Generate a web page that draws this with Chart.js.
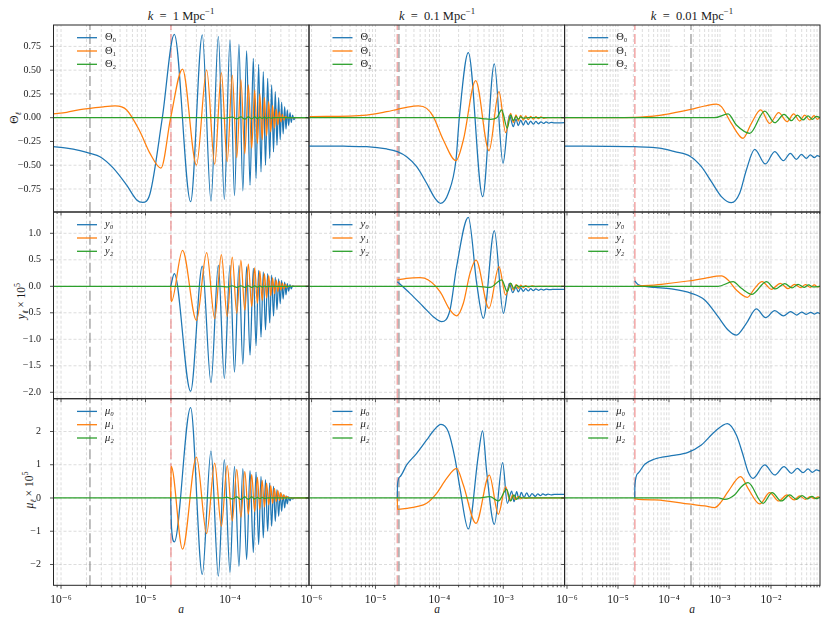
<!DOCTYPE html>
<html><head><meta charset="utf-8">
<script src="https://cdn.jsdelivr.net/npm/chart.js@4.4.1/dist/chart.umd.min.js"></script>
<style>
body{margin:0;background:#fff;width:830px;height:623px;overflow:hidden;position:relative;font-family:'Liberation Serif','DejaVu Serif',serif;color:#1a1a1a;}
canvas{position:absolute;left:0;top:0;}
.t{position:absolute;font-size:12.5px;white-space:nowrap;transform:translate(-50%,-50%);}
.yl{position:absolute;font-size:11.5px;white-space:nowrap;transform:translate(-50%,-50%) rotate(-90deg);}
.xl{position:absolute;font-size:11.5px;white-space:nowrap;transform:translate(-50%,-50%);}
sup,sub{font-size:70%;line-height:0;}
</style></head><body>
<div class="t" style="left:181px;top:15.5px"><i>k</i>&ensp;=&ensp;1 Mpc<sup>−1</sup></div>
<div class="t" style="left:437px;top:15.5px"><i>k</i>&ensp;=&ensp;0.1 Mpc<sup>−1</sup></div>
<div class="t" style="left:692px;top:15.5px"><i>k</i>&ensp;=&ensp;0.01 Mpc<sup>−1</sup></div>
<div class="yl" style="left:14px;top:118px">Θ<sub><i>ℓ</i></sub></div>
<div class="yl" style="left:21px;top:301px"><i>y</i><sub><i>ℓ</i></sub> × 10<sup>5</sup></div>
<div class="yl" style="left:29px;top:490px"><i>μ</i><sub><i>ℓ</i></sub> × 10<sup>5</sup></div>
<div class="xl" style="left:181px;top:609px"><i>a</i></div>
<div class="xl" style="left:437px;top:609px"><i>a</i></div>
<div class="xl" style="left:692px;top:609px"><i>a</i></div>
<script>
// ---------- data: [log10(a), value] ----------
const kLabels = ['1', '0.1', '0.01'];
const xLogMin = [-6.089, -6.04, -6.045];
const xLogMax = [-3.065, -2.042, -1.039];
const yMin = [-0.992, -2.121, -2.626];
const yMax = [0.975, 1.402, 2.986];
const yStep = [0.25, 0.5, 1];
const yDecimals = [2, 1, 0];
const redLineA = [2.0e-5, 2.2e-5, 2.14e-5];
const greyLineA = [2.2e-6, 2.33e-5, 2.7e-4];
const symbols = ['Θ', 'y', 'μ'];

const theta0_k1 = [[-6.089,-0.305],[-5.933,-0.32],[-5.775,-0.347],[-5.657,-0.375],[-5.539,-0.41],[-5.381,-0.53],[-5.223,-0.71],[-5.104,-0.865],[-5.033,-0.89],[-4.947,-0.80],[-4.801,0.0],[-4.659,0.877],
[-4.466,-0.883],[-4.328,0.870],[-4.225,-0.876],[-4.138,0.852],[-4.067,-0.858],[-4.000,0.817],[-3.947,-0.82],[-3.894,0.772],[-3.848,-0.77],[-3.803,0.702],[-3.763,-0.71],[-3.724,0.624],[-3.692,-0.64],[-3.661,0.561],[-3.633,-0.57],[-3.606,0.484],[-3.580,-0.50],[-3.554,0.414],[-3.530,-0.43],[-3.507,0.344],[-3.485,-0.36],[-3.464,0.274],[-3.444,-0.29],[-3.424,0.211],[-3.406,-0.23],[-3.389,0.162],[-3.371,-0.17],[-3.353,0.116],[-3.337,-0.12],[-3.322,0.081],[-3.306,-0.08],[-3.290,0.053],[-3.275,-0.05],[-3.259,0.028],[-3.244,-0.02],[-3.225,0.0],[-3.065,0.0]];
const theta1_k1 = [[-6.089,0.039],[-5.933,0.057],[-5.775,0.085],[-5.657,0.099],[-5.50,0.115],[-5.361,0.123],[-5.223,0.081],[-5.065,-0.147],[-4.947,-0.375],[-4.817,-0.53],[-4.702,0.0],[-4.562,0.512],[-4.397,-0.498],[-4.276,0.502],[-4.181,-0.49],[-4.102,0.474],[-4.033,-0.462],[-3.973,0.449],[-3.920,-0.42],[-3.871,0.40],[-3.825,-0.38],[-3.783,0.345],[-3.743,-0.32],[-3.708,0.29],[-3.676,-0.27],[-3.647,0.25],[-3.619,-0.23],[-3.593,0.21],[-3.567,-0.19],[-3.542,0.17],[-3.518,-0.15],[-3.496,0.13],[-3.474,-0.11],[-3.454,0.09],[-3.434,-0.075],[-3.415,0.06],[-3.397,-0.045],[-3.380,0.035],[-3.362,-0.025],[-3.345,0.015],[-3.32,0.0],[-3.065,0.0]];
const theta2_k1 = [[-6.089,0],[-4.15,0],[-4.067,-0.006],[-3.973,0.006],[-3.920,-0.012],[-3.871,0.008],[-3.825,-0.014],[-3.783,0.008],[-3.743,-0.012],[-3.708,0.008],[-3.676,-0.01],[-3.647,0.006],[-3.619,-0.008],[-3.593,0.005],[-3.567,-0.006],[-3.542,0.004],[-3.518,-0.004],[-3.48,0],[-3.065,0]];

const theta0_k01 = [[-6.04,-0.298],[-5.5,-0.30],[-5.138,-0.305],[-4.825,-0.329],[-4.658,-0.357],[-4.512,-0.41],[-4.355,-0.515],[-4.199,-0.69],[-4.068,-0.848],[-3.980,-0.90],[-3.860,-0.795],[-3.740,-0.445],[-3.688,0.0],[-3.547,0.684],[-3.323,-0.83],[-3.14,0.565],[-3.004,-0.48],[-2.905,0.028],[-2.843,-0.094],[-2.801,-0.014],[-2.765,-0.084],[-2.728,-0.026],[-2.686,-0.077],[-2.650,-0.032],[-2.608,-0.072],[-2.572,-0.036],[-2.530,-0.068],[-2.49,-0.040],[-2.45,-0.064],[-2.41,-0.043],[-2.37,-0.061],[-2.33,-0.045],[-2.29,-0.058],[-2.25,-0.048],[-2.2,-0.055],[-2.04,-0.052]];
const theta1_k01 = [[-6.04,0.011],[-5.138,0.028],[-4.825,0.063],[-4.658,0.088],[-4.512,0.109],[-4.329,0.123],[-4.199,0.098],[-4.095,0.011],[-3.938,-0.235],[-3.740,-0.452],[-3.625,-0.235],[-3.432,0.39],[-3.223,-0.347],[-3.067,0.274],[-2.963,-0.157],[-2.885,0.046],[-2.843,-0.05],[-2.80,0.03],[-2.765,-0.035],[-2.728,0.025],[-2.686,-0.025],[-2.65,0.02],[-2.608,-0.02],[-2.572,0.015],[-2.53,-0.015],[-2.49,0.012],[-2.45,-0.01],[-2.41,0.008],[-2.37,-0.006],[-2.3,0.0],[-2.04,0.0]];
const theta2_k01 = [[-6.04,0],[-3.45,0],[-3.30,-0.012],[-3.20,-0.017],[-3.10,0.0],[-3.025,0.081],[-2.937,-0.11],[-2.885,0.03],[-2.843,-0.03],[-2.80,0.015],[-2.765,-0.015],[-2.728,0.008],[-2.69,-0.005],[-2.6,0],[-2.04,0]];

const theta0_k001 = [[-6.045,-0.298],[-4.672,-0.305],[-4.15,-0.322],[-3.888,-0.357],[-3.574,-0.41],[-3.365,-0.515],[-3.169,-0.673],[-2.973,-0.83],[-2.777,-0.894],[-2.614,-0.795],[-2.483,-0.55],[-2.319,-0.333],[-2.11,-0.487],[-1.927,-0.357],[-1.757,-0.452],[-1.62,-0.375],[-1.502,-0.438],[-1.404,-0.385],[-1.306,-0.427],[-1.228,-0.392],[-1.15,-0.42],[-1.091,-0.399],[-1.039,-0.41]];
const theta1_k001 = [[-6.045,0.0],[-4.672,0.004],[-4.15,0.028],[-3.888,0.053],[-3.574,0.088],[-3.30,0.123],[-3.071,0.144],[-2.973,0.116],[-2.777,-0.06],[-2.548,-0.217],[-2.385,-0.06],[-2.202,0.081],[-2.025,-0.06],[-1.849,0.053],[-1.685,-0.042],[-1.555,0.039],[-1.437,-0.035],[-1.339,0.028],[-1.241,-0.024],[-1.156,0.021],[-1.091,-0.017],[-1.039,0.004]];
const theta2_k001 = [[-6.045,0],[-3.104,0],[-2.842,0.039],[-2.679,-0.077],[-2.417,-0.164],[-2.123,0.07],[-1.927,-0.053],[-1.744,0.035],[-1.6,-0.031],[-1.483,0.028],[-1.372,-0.024],[-1.274,0.018],[-1.189,-0.017],[-1.11,0.014],[-1.039,0.0]];

const y0_k1 = [[-4.702,0.0],[-4.659,0.24],[-4.466,-1.98],[-4.328,0.38],[-4.225,-1.82],[-4.138,0.40],[-4.067,-1.74],[-4.000,0.40],[-3.947,-1.62],[-3.894,0.39],[-3.848,-1.47],[-3.803,0.37],[-3.763,-1.30],[-3.724,0.34],[-3.692,-1.12],[-3.661,0.30],[-3.633,-0.96],[-3.606,0.27],[-3.580,-0.82],[-3.554,0.24],[-3.530,-0.69],[-3.507,0.21],[-3.485,-0.56],[-3.464,0.17],[-3.444,-0.44],[-3.424,0.14],[-3.406,-0.33],[-3.389,0.11],[-3.371,-0.24],[-3.353,0.08],[-3.337,-0.16],[-3.322,0.05],[-3.306,-0.09],[-3.290,0.03],[-3.275,-0.05],[-3.259,0.01],[-3.24,0.0],[-3.065,0.0]];
const y1_k1 = [[-4.702,0.0],[-4.694,-0.29],[-4.562,0.68],[-4.397,-0.645],[-4.276,0.635],[-4.181,-0.61],[-4.102,0.60],[-4.033,-0.57],[-3.973,0.55],[-3.920,-0.51],[-3.871,0.49],[-3.825,-0.45],[-3.783,0.42],[-3.743,-0.38],[-3.708,0.35],[-3.676,-0.32],[-3.647,0.29],[-3.619,-0.27],[-3.593,0.24],[-3.567,-0.22],[-3.542,0.20],[-3.518,-0.18],[-3.496,0.16],[-3.474,-0.14],[-3.454,0.12],[-3.434,-0.10],[-3.415,0.09],[-3.397,-0.07],[-3.380,0.06],[-3.362,-0.05],[-3.345,0.04],[-3.33,-0.02],[-3.31,0.0],[-3.065,0.0]];
const y2_k1 = [[-6.089,0],[-4.1,0],[-4.033,-0.01],[-3.973,0.01],[-3.920,-0.02],[-3.871,0.01],[-3.825,-0.02],[-3.783,0.01],[-3.743,-0.02],[-3.708,0.01],[-3.676,-0.015],[-3.647,0.008],[-3.619,-0.01],[-3.593,0.005],[-3.567,-0.006],[-3.53,0],[-3.065,0]];

const y0_k01 = [[-4.658,0.087],[-4.46,-0.133],[-4.251,-0.385],[-4.095,-0.573],[-3.964,-0.667],[-3.834,-0.447],[-3.73,0.37],[-3.547,1.301],[-3.416,0.055],[-3.312,-0.605],[-3.14,1.05],[-2.999,-0.51],[-2.905,0.057],[-2.853,-0.12],[-2.801,-0.02],[-2.765,-0.107],[-2.728,-0.032],[-2.686,-0.095],[-2.65,-0.045],[-2.608,-0.088],[-2.572,-0.045],[-2.53,-0.082],[-2.49,-0.05],[-2.45,-0.075],[-2.41,-0.053],[-2.37,-0.07],[-2.33,-0.055],[-2.28,-0.065],[-2.23,-0.057],[-2.04,-0.06]];
const y1_k01 = [[-4.658,0.12],[-4.512,0.151],[-4.303,0.164],[-4.173,0.12],[-3.99,-0.101],[-3.834,-0.447],[-3.73,-0.56],[-3.625,-0.321],[-3.521,0.245],[-3.427,0.496],[-3.224,-0.415],[-3.067,0.37],[-2.963,-0.164],[-2.885,0.057],[-2.843,-0.07],[-2.80,0.03],[-2.765,-0.04],[-2.728,0.02],[-2.686,-0.025],[-2.65,0.012],[-2.608,-0.015],[-2.55,0.008],[-2.5,-0.005],[-2.4,0],[-2.04,0]];
const y2_k01 = [[-6.04,0],[-3.4,0],[-3.208,-0.02],[-3.025,0.12],[-2.937,-0.10],[-2.885,0.06],[-2.834,-0.04],[-2.79,0.02],[-2.75,-0.01],[-2.7,0],[-2.04,0]];

const y0_k001 = [[-4.672,0.10],[-4.6,0.03],[-4.28,-0.019],[-3.953,-0.05],[-3.561,-0.133],[-3.3,-0.259],[-3.038,-0.573],[-2.842,-0.824],[-2.679,-0.919],[-2.483,-0.70],[-2.287,-0.428],[-2.104,-0.592],[-1.927,-0.46],[-1.757,-0.56],[-1.613,-0.479],[-1.496,-0.542],[-1.398,-0.485],[-1.306,-0.529],[-1.221,-0.491],[-1.143,-0.523],[-1.084,-0.498],[-1.039,-0.517]];
const y1_k001 = [[-4.672,0],[-4.15,0.038],[-3.627,0.1],[-3.3,0.151],[-2.973,0.195],[-2.842,0.12],[-2.679,-0.07],[-2.463,-0.208],[-2.319,-0.038],[-2.175,0.088],[-1.993,-0.057],[-1.816,0.057],[-1.666,-0.044],[-1.535,0.038],[-1.417,-0.025],[-1.326,0.031],[-1.228,-0.019],[-1.15,0.025],[-1.084,-0.013],[-1.039,0.006]];
const y2_k001 = [[-6.045,0],[-3.038,0],[-2.744,0.088],[-2.581,-0.038],[-2.372,-0.151],[-2.091,0.088],[-1.914,-0.05],[-1.731,0.05],[-1.587,-0.031],[-1.47,0.038],[-1.352,-0.019],[-1.261,0.025],[-1.176,-0.013],[-1.039,0]];

const mu0_k1 = [[-4.702,0.0],[-4.692,-0.9],[-4.659,-1.32],[-4.466,2.72],[-4.328,-2.30],[-4.225,1.42],[-4.138,-2.35],[-4.067,1.15],[-4.000,-2.24],[-3.947,0.95],[-3.894,-2.06],[-3.848,0.88],[-3.803,-1.85],[-3.763,0.82],[-3.724,-1.64],[-3.692,0.78],[-3.661,-1.40],[-3.633,0.65],[-3.606,-1.20],[-3.580,0.55],[-3.554,-1.00],[-3.530,0.45],[-3.507,-0.85],[-3.485,0.35],[-3.464,-0.70],[-3.444,0.25],[-3.424,-0.55],[-3.406,0.17],[-3.389,-0.40],[-3.371,0.10],[-3.353,-0.30],[-3.337,0.06],[-3.322,-0.18],[-3.306,0.03],[-3.290,-0.09],[-3.275,0.01],[-3.259,-0.03],[-3.24,0.0],[-3.065,0.0]];
const mu1_k1 = [[-4.702,0.0],[-4.696,0.95],[-4.562,-1.54],[-4.397,1.23],[-4.276,-1.07],[-4.181,1.05],[-4.102,-0.85],[-4.033,0.97],[-3.973,-0.69],[-3.920,0.86],[-3.871,-0.58],[-3.825,0.79],[-3.783,-0.49],[-3.743,0.70],[-3.708,-0.41],[-3.676,0.62],[-3.647,-0.34],[-3.619,0.53],[-3.593,-0.27],[-3.567,0.45],[-3.542,-0.21],[-3.518,0.37],[-3.496,-0.16],[-3.474,0.29],[-3.454,-0.11],[-3.434,0.22],[-3.415,-0.07],[-3.397,0.15],[-3.380,-0.04],[-3.362,0.09],[-3.345,-0.02],[-3.33,0.05],[-3.30,0.0],[-3.065,0.0]];
const mu2_k1 = [[-6.089,0],[-4.1,0],[-4.033,0.02],[-3.973,-0.03],[-3.920,0.03],[-3.871,-0.04],[-3.825,0.03],[-3.783,-0.04],[-3.743,0.03],[-3.708,-0.03],[-3.676,0.02],[-3.647,-0.02],[-3.619,0.015],[-3.593,-0.01],[-3.55,0],[-3.065,0]];

const mu0_k01 = [[-4.658,0],[-4.655,0.39],[-4.616,0.642],[-4.512,0.993],[-4.355,1.344],[-4.199,1.745],[-4.095,2.015],[-3.975,2.216],[-3.86,1.995],[-3.756,1.193],[-3.677,0.291],[-3.547,-0.932],[-3.39,1.29],[-3.323,2.015],[-3.26,0.79],[-3.14,-0.792],[-3.01,1.063],[-2.937,-0.16],[-2.869,0.21],[-2.832,-0.11],[-2.791,0.19],[-2.754,-0.03],[-2.718,0.17],[-2.676,0.01],[-2.634,0.15],[-2.592,0.03],[-2.55,0.13],[-2.50,0.05],[-2.46,0.125],[-2.42,0.07],[-2.38,0.12],[-2.34,0.085],[-2.30,0.115],[-2.25,0.095],[-2.2,0.11],[-2.04,0.105]];
const mu1_k01 = [[-4.658,0],[-4.655,-0.34],[-4.512,-0.31],[-4.355,-0.26],[-4.199,-0.16],[-4.043,0.14],[-3.886,0.59],[-3.73,0.892],[-3.625,0.39],[-3.427,-0.762],[-3.218,0.69],[-3.077,-0.49],[-2.963,0.34],[-2.895,-0.09],[-2.853,0.09],[-2.81,-0.05],[-2.77,0.04],[-2.73,-0.025],[-2.69,0.02],[-2.65,-0.01],[-2.6,0],[-2.04,0]];
const mu2_k01 = [[-6.04,0],[-3.40,0],[-3.21,0.04],[-3.077,-0.09],[-2.947,0.26],[-2.885,-0.09],[-2.832,0.09],[-2.79,-0.04],[-2.75,0.03],[-2.7,0],[-2.04,0]];

const mu0_k001 = [[-4.672,0],[-4.668,0.39],[-4.607,0.742],[-4.476,1.013],[-4.28,1.173],[-3.953,1.273],[-3.627,1.374],[-3.365,1.594],[-3.104,1.995],[-2.855,2.236],[-2.679,1.895],[-2.548,1.293],[-2.45,0.792],[-2.352,0.592],[-2.123,0.993],[-1.927,0.692],[-1.744,0.943],[-1.6,0.742],[-1.483,0.893],[-1.372,0.762],[-1.274,0.873],[-1.189,0.772],[-1.11,0.842],[-1.039,0.812]];
const mu1_k001 = [[-4.672,0],[-4.66,-0.03],[-4.28,-0.06],[-3.953,-0.11],[-3.627,-0.18],[-3.3,-0.24],[-3.104,-0.29],[-2.973,-0.11],[-2.842,0.19],[-2.594,0.642],[-2.45,0.29],[-2.221,-0.18],[-2.025,0.16],[-1.849,-0.09],[-1.685,0.09],[-1.548,-0.06],[-1.437,0.06],[-1.326,-0.04],[-1.228,0.04],[-1.15,-0.02],[-1.078,0.03],[-1.039,0.01]];
const mu2_k001 = [[-6.045,0],[-3.038,0],[-2.908,-0.04],[-2.711,0.1],[-2.581,0.34],[-2.45,0.461],[-2.156,-0.16],[-1.979,0.16],[-1.797,-0.09],[-1.633,0.09],[-1.502,-0.04],[-1.391,0.07],[-1.287,-0.03],[-1.196,0.05],[-1.117,-0.02],[-1.039,0.02]];

const series = [
  [[theta0_k1, theta1_k1, theta2_k1], [theta0_k01, theta1_k01, theta2_k01], [theta0_k001, theta1_k001, theta2_k001]],
  [[y0_k1, y1_k1, y2_k1], [y0_k01, y1_k01, y2_k01], [y0_k001, y1_k001, y2_k001]],
  [[mu0_k1, mu1_k1, mu2_k1], [mu0_k01, mu1_k01, mu2_k01], [mu0_k001, mu1_k001, mu2_k001]]
];

// ---------- layout / style ----------
const W = 830, H = 623;
const colPx = [[53.5, 309], [309, 564.5], [564.7, 820]];
const rowPx = [[25, 212], [212, 398.7], [398.7, 585.3]];
const lineColors = ['#1f77b4', '#ff7f0e', '#2ca02c'];
const FONT = "'Liberation Serif','DejaVu Serif',serif";
const SUP = {'-':'⁻','0':'⁰','1':'¹','2':'²','3':'³','4':'⁴','5':'⁵','6':'⁶','7':'⁷','8':'⁸','9':'⁹'};
const SUB = ['₀','₁','₂'];
const supStr = n => String(n).split('').map(c => SUP[c]).join('');

const panelPlugin = {
  id: 'panel',
  beforeDatasetsDraw(chart, args, o) {
    const {ctx, chartArea: a, scales: {x, y}} = chart;
    ctx.save();
    ctx.strokeStyle = 'rgba(165,165,165,0.65)';
    ctx.lineWidth = 0.6;
    ctx.setLineDash([3, 2]);
    x.ticks.forEach(t => {
      const px = x.getPixelForValue(t.value);
      if (px < a.left + 0.5 || px > a.right - 0.5) return;
      ctx.beginPath(); ctx.moveTo(px, a.bottom); ctx.lineTo(px, a.top); ctx.stroke();
    });
    y.ticks.forEach(t => {
      const py = y.getPixelForValue(t.value);
      ctx.beginPath(); ctx.moveTo(a.left, py); ctx.lineTo(a.right, py); ctx.stroke();
    });
    ctx.lineWidth = 1.6;
    ctx.setLineDash([10, 4]);
    [[o.red, 'rgba(232,100,100,0.55)'], [o.grey, 'rgba(120,120,120,0.6)']].forEach(([v, c]) => {
      const px = x.getPixelForValue(v);
      ctx.strokeStyle = c;
      ctx.beginPath(); ctx.moveTo(px, a.bottom); ctx.lineTo(px, a.top); ctx.stroke();
    });
    ctx.restore();
  },
  afterDatasetsDraw(chart, args, o) {
    const {ctx, chartArea: a, scales: {x, y}} = chart;
    ctx.save();
    ctx.setLineDash([]);
    ctx.strokeStyle = '#262626';
    ctx.lineWidth = 0.8;
    x.ticks.forEach(t => {
      const px = x.getPixelForValue(t.value);
      const len = t.major ? 3.5 : 2;
      ctx.beginPath(); ctx.moveTo(px, a.bottom); ctx.lineTo(px, a.bottom + len); ctx.stroke();
    });
    y.ticks.forEach(t => {
      const py = y.getPixelForValue(t.value);
      ctx.beginPath(); ctx.moveTo(a.left, py); ctx.lineTo(a.left - 3.5, py); ctx.stroke();
    });
    ctx.lineWidth = 1;
    ctx.strokeRect(a.left, a.top, a.right - a.left, a.bottom - a.top);
    // legend
    const lx = a.left + 23.5;
    chart.data.datasets.forEach((ds, i) => {
      const ly = a.top + 12.7 + i * 13.3;
      ctx.strokeStyle = ds.borderColor; ctx.lineWidth = 1.3;
      ctx.beginPath(); ctx.moveTo(lx, ly); ctx.lineTo(lx + 20, ly); ctx.stroke();
      ctx.fillStyle = '#1a1a1a';
      ctx.textBaseline = 'middle';
      ctx.font = (o.italic ? 'italic ' : '') + '10.5px ' + FONT;
      ctx.fillText(ds.label, lx + 28, ly);
    });
    ctx.restore();
  }
};

for (let r = 0; r < 3; r++) {
  for (let c = 0; c < 3; c++) {
    const cv = document.createElement('canvas');
    cv.width = W; cv.height = H;
    document.body.appendChild(cv);
    const [L, R] = colPx[c], [T, B] = rowPx[r];
    const yW = c === 0 ? L : 0;
    const xH = r === 2 ? H - B : 0;
    const xmin = Math.pow(10, xLogMin[c]), xmax = Math.pow(10, xLogMax[c]);
    const datasets = series[r][c].map((arr, i) => ({
      label: symbols[r] + SUB[i],
      data: arr.map(p => ({x: Math.pow(10, p[0]), y: p[1]})),
      borderColor: lineColors[i],
      borderWidth: 1.25,
      pointRadius: 0,
      fill: false,
      cubicInterpolationMode: 'monotone',
      order: 3 - i
    }));
    new Chart(cv, {
      type: 'line',
      data: {datasets},
      plugins: [panelPlugin],
      options: {
        responsive: false, animation: false, devicePixelRatio: 1,
        layout: {padding: {left: L - yW, right: W - R, top: T, bottom: H - B - xH}},
        plugins: {legend: {display: false}, tooltip: {enabled: false},
          panel: {red: redLineA[c], grey: greyLineA[c], italic: r > 0}},
        scales: {
          x: {
            type: 'logarithmic', min: xmin, max: xmax,
            grid: {display: false}, border: {display: false},
            afterBuildTicks: s => {
              const t = [];
              for (let e = Math.floor(xLogMin[c]); e <= Math.ceil(xLogMax[c]); e++) {
                for (let m = 1; m <= 9; m++) {
                  const v = m * Math.pow(10, e);
                  if (v >= xmin && v <= xmax) t.push({value: v, major: m === 1});
                }
              }
              s.ticks = t;
            },
            afterFit: s => { s.height = xH; s.paddingLeft = 0; s.paddingRight = 0; },
            ticks: {
              display: r === 2, autoSkip: false, maxRotation: 0, minRotation: 0, padding: 0,
              color: '#1a1a1a', font: {family: FONT, size: 11.5},
              callback: function (v) {
                const e = Math.log10(v);
                const re = Math.round(e);
                return Math.abs(e - re) < 1e-6 ? '10' + supStr(re) : '';
              }
            }
          },
          y: {
            type: 'linear', min: yMin[r], max: yMax[r],
            grid: {display: false}, border: {display: false},
            afterFit: s => { s.width = yW; s.paddingTop = 0; s.paddingBottom = 0; },
            ticks: {
              display: c === 0, stepSize: yStep[r], includeBounds: false, padding: 4.5,
              color: '#1a1a1a', font: {family: FONT, size: 10},
              callback: v => Number(v).toFixed(yDecimals[r]).replace('-', '−')
            }
          }
        }
      }
    });
  }
}
</script>
</body></html>
